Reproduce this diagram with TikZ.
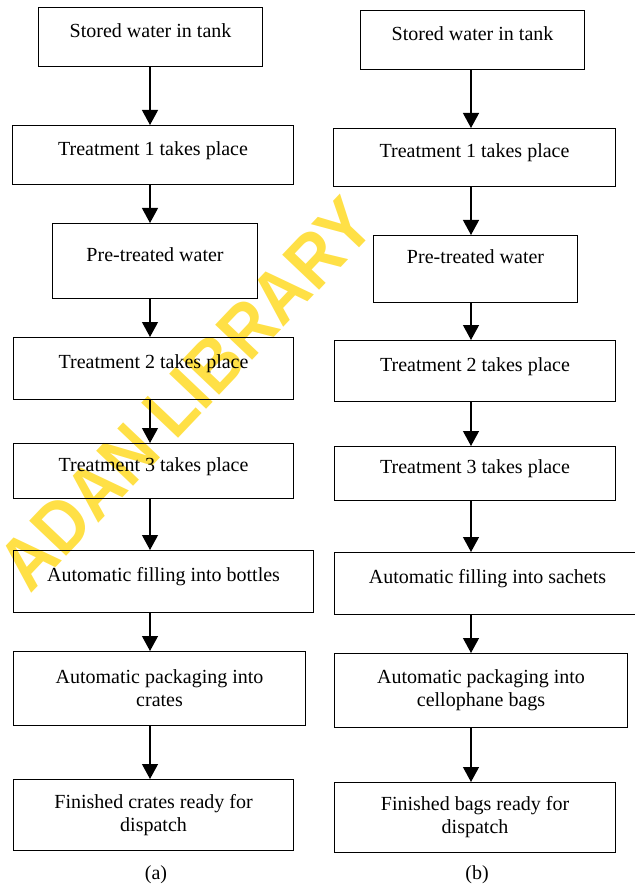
\documentclass[tikz,border=0pt]{standalone}
\usepackage{fontspec}
\setmainfont{Liberation Serif}
\newfontfamily\wmfont[FakeStretch=0.9]{Liberation Sans}
\usepackage{xcolor}
\usepackage{tikz}
\usetikzlibrary{arrows.meta}
\definecolor{wmyellow}{RGB}{255,224,70}

\begin{document}
\begin{tikzpicture}[x=1pt,y=-1pt,
  blk/.style={draw=black,line width=1.1pt,anchor=north west,align=center,
              inner sep=3pt,font=\fontsize{20}{23}\selectfont},
  oneline/.style={text height=14pt,text depth=14pt},
  arr/.style={-{Triangle[length=15pt,width=16pt]},line width=1.2pt},
  lab/.style={font=\fontsize{20}{23}\selectfont},
  wm/.style={font=\wmfont\bfseries\fontsize{74}{74}\selectfont,
             text=wmyellow,rotate=46.5}
]
\useasboundingbox (0,0) rectangle (634,885);
% watermark
\node[wm] (mark) at (186,394) {ADAN LIBRARY};

\coordinate (colA) at (150,0);
\coordinate (colB) at (471,0);

% (a) bottles
\node[blk,oneline,minimum width=224pt,minimum height=59pt] (a1) at (38,7) {Stored water in tank};
\node[blk,oneline,minimum width=281pt,minimum height=59pt] (a2) at (12,125) {Treatment 1 takes place};
\node[blk,oneline,minimum width=205pt,minimum height=75pt] (a3) at (52,223) {Pre-treated water};
\node[blk,oneline,minimum width=280pt,minimum height=62pt] (a4) at (13,337) {Treatment 2 takes place};
\node[blk,oneline,minimum width=280pt,minimum height=55pt] (a5) at (13,443) {Treatment 3 takes place};
\node[blk,oneline,minimum width=300pt,minimum height=62pt] (a6) at (13,550) {Automatic filling into bottles};
\node[blk,minimum width=292pt,minimum height=74pt] (a7) at (13,651) {Automatic packaging into\\crates};
\node[blk,minimum width=280pt,minimum height=71pt] (a8) at (13,779) {Finished crates ready for\\dispatch};

\draw[arr] (a1.south -| colA) -- (a2.north -| colA);
\draw[arr] (a2.south -| colA) -- (a3.north -| colA);
\draw[arr] (a3.south -| colA) -- (a4.north -| colA);
\draw[arr] (a4.south -| colA) -- (a5.north -| colA);
\draw[arr] (a5.south -| colA) -- (a6.north -| colA);
\draw[arr] (a6.south -| colA) -- (a7.north -| colA);
\draw[arr] (a7.south -| colA) -- (a8.north -| colA);

% (b) sachets
\node[blk,oneline,minimum width=224pt,minimum height=59pt] (b1) at (360,10) {Stored water in tank};
\node[blk,oneline,minimum width=282pt,minimum height=58pt] (b2) at (333,128) {Treatment 1 takes place};
\node[blk,oneline,text depth=25pt,minimum width=204pt,minimum height=67pt] (b3) at (373,235) {Pre-treated water};
\node[blk,oneline,minimum width=281pt,minimum height=61pt] (b4) at (334,340) {Treatment 2 takes place};
\node[blk,oneline,minimum width=281pt,minimum height=54pt] (b5) at (334,446) {Treatment 3 takes place};
\node[blk,oneline,minimum width=306pt,minimum height=62pt] (b6) at (334,552) {Automatic filling into sachets};
\node[blk,minimum width=293pt,minimum height=74pt] (b7) at (334,653) {Automatic packaging into\\cellophane bags};
\node[blk,minimum width=281pt,minimum height=70pt] (b8) at (334,782) {Finished bags ready for\\dispatch};

\draw[arr] (b1.south -| colB) -- (b2.north -| colB);
\draw[arr] (b2.south -| colB) -- (b3.north -| colB);
\draw[arr] (b3.south -| colB) -- (b4.north -| colB);
\draw[arr] (b4.south -| colB) -- (b5.north -| colB);
\draw[arr] (b5.south -| colB) -- (b6.north -| colB);
\draw[arr] (b6.south -| colB) -- (b7.north -| colB);
\draw[arr] (b7.south -| colB) -- (b8.north -| colB);

% captions
\node[lab] (capA) at (156,875) {(a)};
\node[lab] (capB) at (477,875) {(b)};

\end{tikzpicture}
\end{document}
